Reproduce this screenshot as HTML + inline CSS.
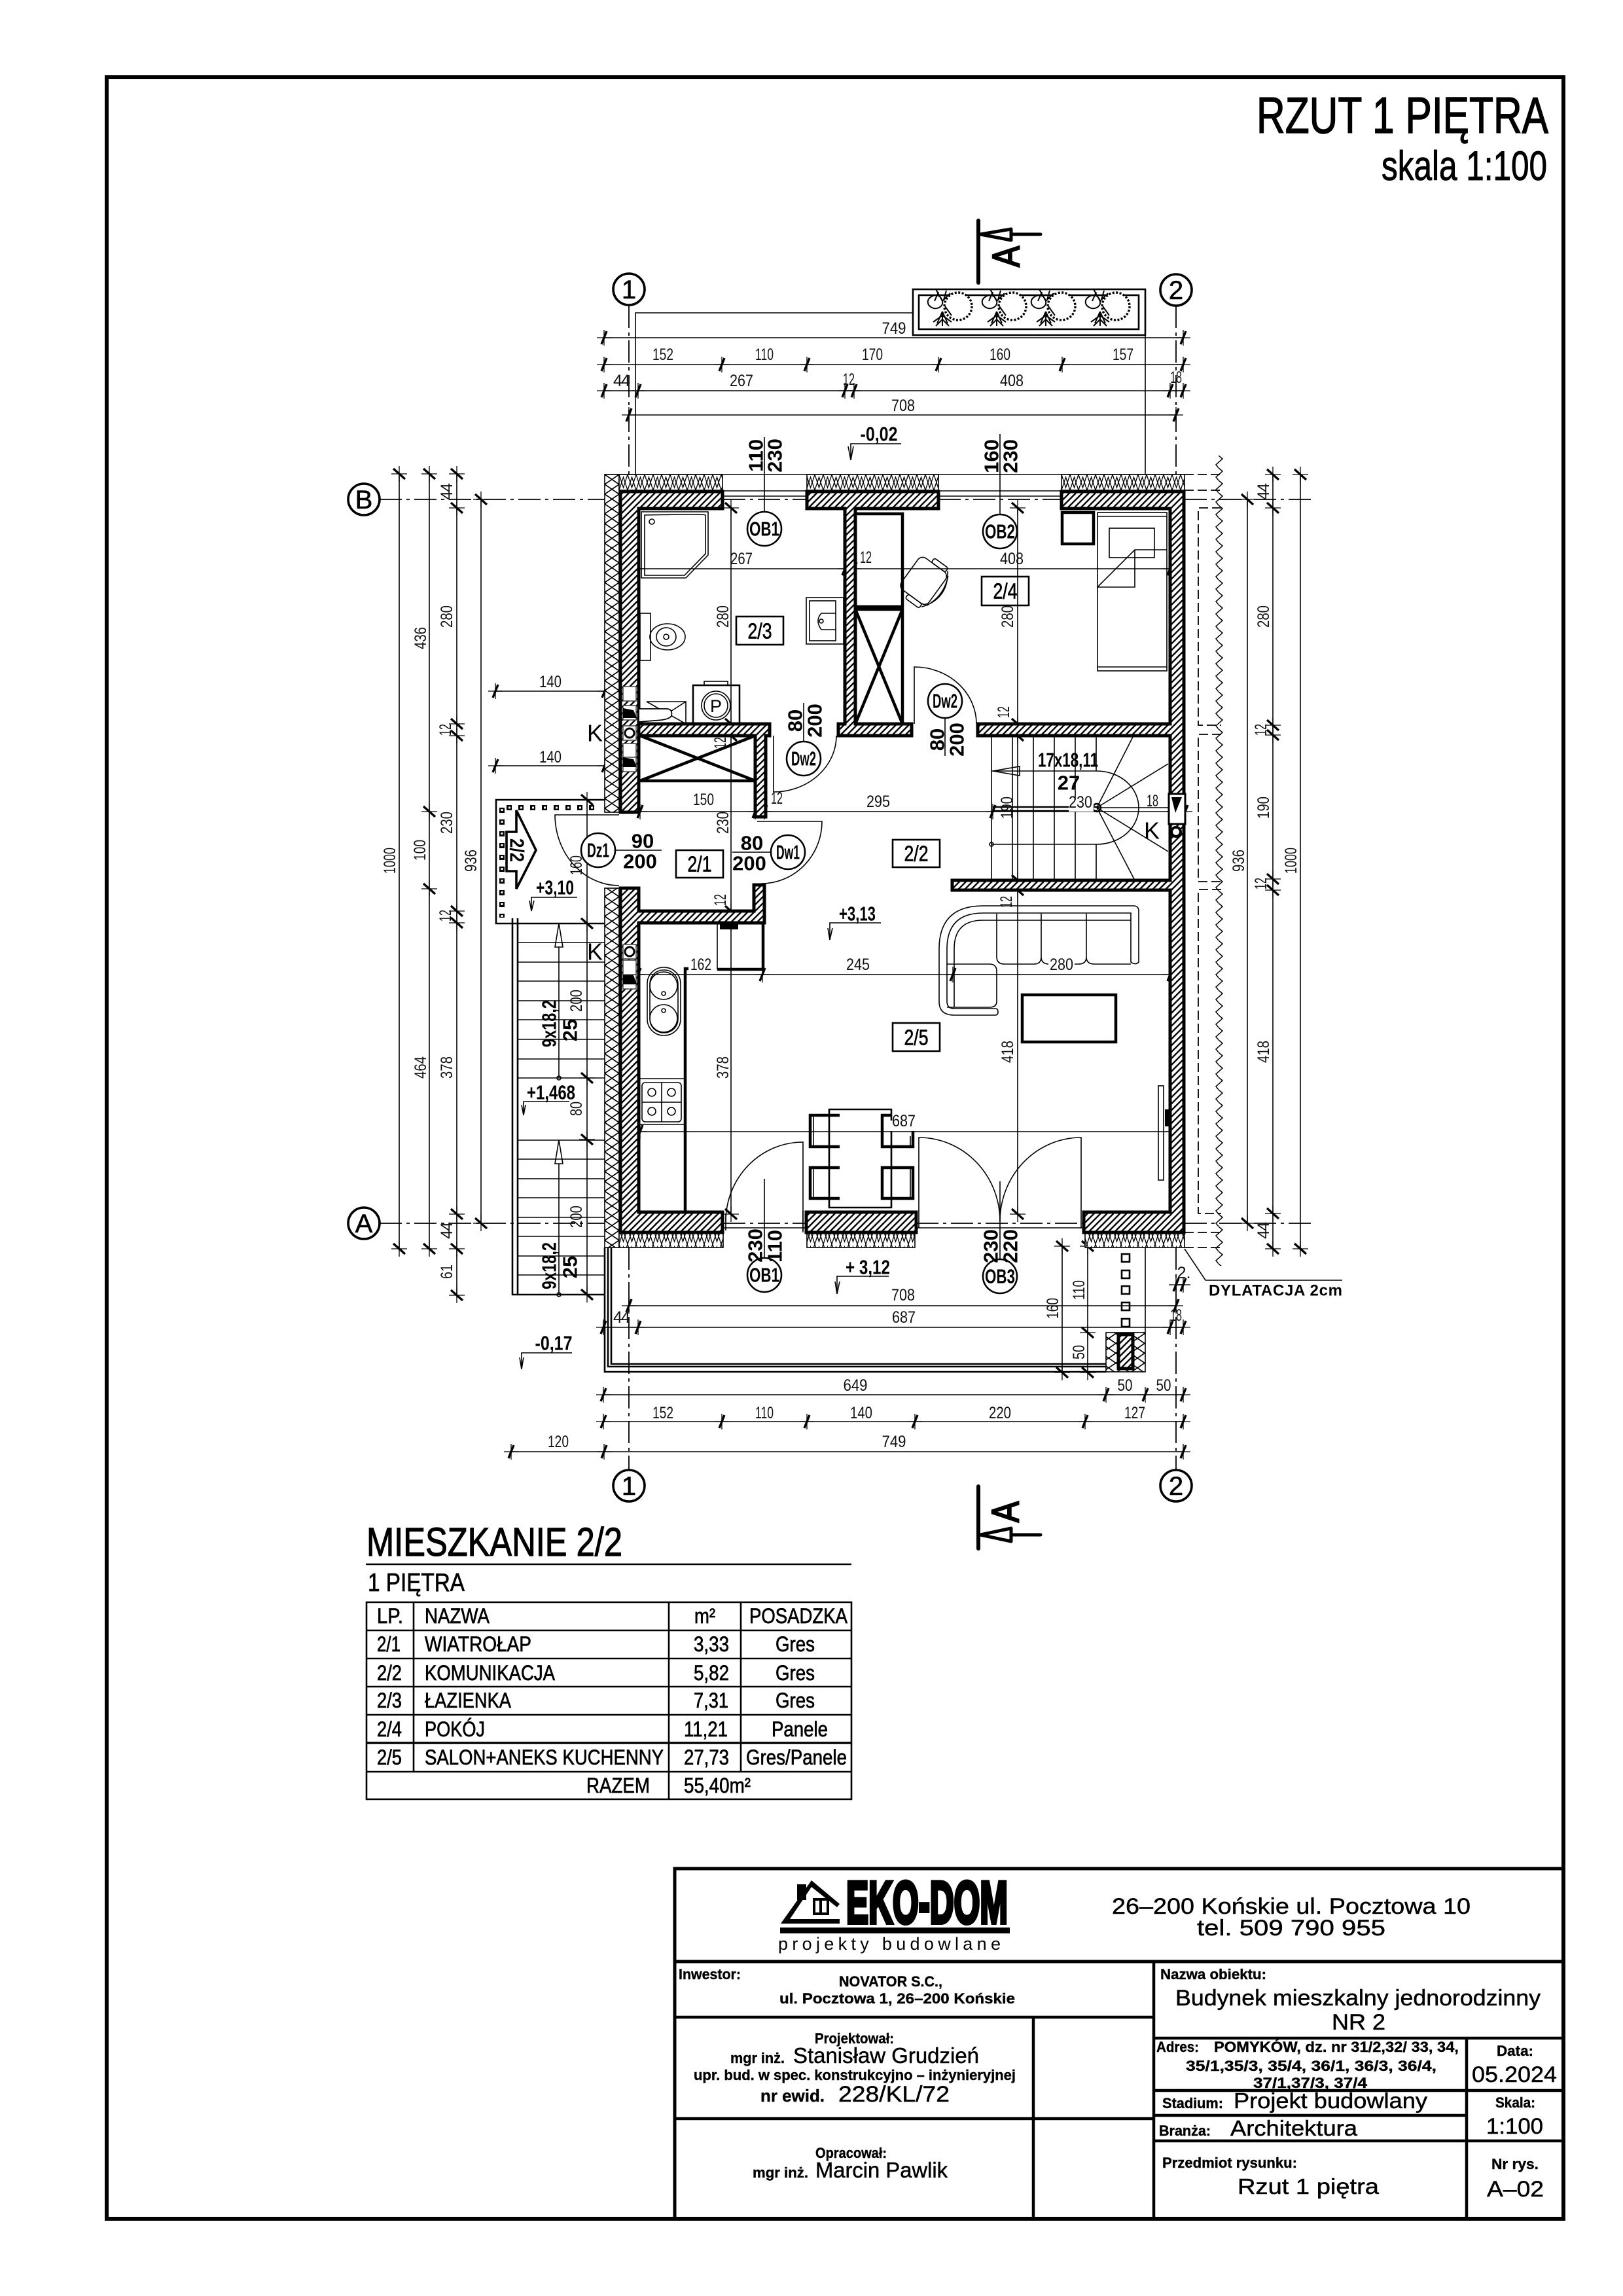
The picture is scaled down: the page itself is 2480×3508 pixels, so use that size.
<!DOCTYPE html>
<html><head><meta charset="utf-8"><title>Rzut 1 piętra</title>
<style>
html,body{margin:0;padding:0;background:#fff}
svg{display:block;font-family:"Liberation Sans",sans-serif}
.t{fill:none;stroke:#000;stroke-width:1.6}
.m{fill:none;stroke:#000;stroke-width:2.6}
.k{fill:none;stroke:#000;stroke-width:4.5}
.w{fill:url(#ha);stroke:#000;stroke-width:5;stroke-linejoin:miter}
.in{fill:url(#lo);stroke:#000;stroke-width:1.6}
.cr{fill:url(#cr);stroke:#000;stroke-width:1.6}
.ax{fill:none;stroke:#000;stroke-width:1.8;stroke-dasharray:34 7 5 7}
.da{fill:none;stroke:#000;stroke-width:1.8;stroke-dasharray:14 6}
.dh{fill:none;stroke:#000;stroke-width:1.6;marker-start:url(#th);marker-mid:url(#th);marker-end:url(#th)}
.dv{fill:none;stroke:#000;stroke-width:1.6;marker-start:url(#tv);marker-mid:url(#tv);marker-end:url(#tv)}
.c{fill:#fff;stroke:#000;stroke-width:3.6}
.c2{fill:#fff;stroke:#000;stroke-width:2.6}
.d{font-size:25px;text-anchor:middle;dominant-baseline:central;fill:#111}
.b{font-size:31px;font-weight:bold;text-anchor:middle;dominant-baseline:central}
.r{font-size:33px;text-anchor:middle;dominant-baseline:central;stroke:#000;stroke-width:.7px}
.h{font-size:22px;font-weight:bold}
.n{font-size:34px;stroke:#000;stroke-width:.5px}
.tb text{stroke:#000;stroke-width:.7px}
</style></head><body>
<svg xmlns="http://www.w3.org/2000/svg" width="2480" height="3508" viewBox="0 0 2480 3508">
<defs>
<pattern id="ha" width="7" height="7" patternUnits="userSpaceOnUse" patternTransform="rotate(45)"><rect width="7" height="7" fill="#fff"/><rect width="2.4" height="7" fill="#000"/></pattern>
<pattern id="lo" x="946" y="725" width="13" height="24" patternUnits="userSpaceOnUse"><rect width="13" height="24" fill="#fff"/><path d="M0 0 6.500 20 13 0M0 24 6.500 4 13 24" fill="none" stroke="#000" stroke-width="1.3"/></pattern>
<pattern id="cr" x="924" y="725" width="22" height="15" patternUnits="userSpaceOnUse"><rect width="22" height="15" fill="#fff"/><path d="M0 0 22 15M22 0 0 15" fill="none" stroke="#000" stroke-width="1.7"/></pattern>
<pattern id="zg" x="1855" y="696" width="14" height="19" patternUnits="userSpaceOnUse"><path d="M7 0 13 5 3 14 7 19" fill="none" stroke="#000" stroke-width="1.5"/></pattern>
<marker id="th" markerUnits="userSpaceOnUse" markerWidth="36" markerHeight="40" refX="18" refY="20" overflow="visible"><path d="M7 20H29M18 8V32" stroke="#000" stroke-width="1.3" fill="none"/><path d="M14 30 22 10" stroke="#000" stroke-width="3.4" fill="none"/></marker>
<marker id="tv" markerUnits="userSpaceOnUse" markerWidth="40" markerHeight="36" refX="20" refY="18" overflow="visible"><path d="M20 6V30M8 18H32" stroke="#000" stroke-width="1.3" fill="none"/><path d="M11 10 29 26" stroke="#000" stroke-width="3.4" fill="none"/></marker>
<g id="pl"><circle r="21" fill="#fff" stroke="#000" stroke-width="3.4" stroke-dasharray="3 2.5"/><path d="M-42 -14c8-6 16-2 18 6s-8 14-16 10-8-12-2-16zM-34-26-24-8-12-20M-24 8-32 26M-24 8-16 26M-24 8-24 30M-24 14-38 24M-24 14-10 24M-24 20-34 30M-24 20-14 30M-20 0-10 14M-30 -22-36 -8M-18 -24-22 -10" fill="none" stroke="#000" stroke-width="2"/></g>
<g id="ch"><rect x="-10" y="-11" width="20" height="22" fill="#fff" stroke="#444" stroke-width="1.5"/></g>
</defs>
<rect width="2480" height="3508" fill="#fff"/>
<rect x="163" y="118" width="2226" height="3272" fill="none" stroke="#000" stroke-width="6"/>

<text x="1920" y="203" font-size="78" stroke="#000" stroke-width="1.4" textLength="446" lengthAdjust="spacingAndGlyphs">RZUT 1 PIĘTRA</text>
<text x="2111" y="275" font-size="63" stroke="#000" stroke-width="1" textLength="253" lengthAdjust="spacingAndGlyphs">skala 1:100</text>

<!-- section marks -->
<g fill="none" stroke="#000" stroke-linecap="round">
<path d="M1495 337V432M1495 2271V2366" stroke-width="6"/>
<path d="M1545 358H1590M1545 2345H1590M1498 358 1545 350V367ZM1498 2345 1545 2335V2355Z" stroke-width="5" stroke-linejoin="round"/>
</g>
<text x="1538" y="392" transform="rotate(-90 1538 392)" font-size="58" text-anchor="middle" dominant-baseline="central" stroke="#000" stroke-width="2.5" textLength="32" lengthAdjust="spacingAndGlyphs">A</text>
<text x="1537" y="2310" transform="rotate(-90 1537 2310)" font-size="58" text-anchor="middle" dominant-baseline="central" stroke="#000" stroke-width="2.5" textLength="32" lengthAdjust="spacingAndGlyphs">A</text>

<!-- planter -->
<rect x="1395" y="442" width="355" height="70" class="m"/>
<rect x="1404" y="451" width="336" height="52" class="m"/>
<use href="#pl" x="1464" y="468"/><use href="#pl" x="1547" y="468"/><use href="#pl" x="1622" y="468"/><use href="#pl" x="1705" y="468"/>

<!-- axes -->
<path class="ax" d="M961 467V725M1797 467V725M961 1906V2246M1797 1906V2246M580 763H948M1810 763H2005M580 1869H948M1810 1869H2005M1105 763H1233M1434 763H1622M1105 1869H1232M1400 1869H1656"/>
<circle cx="961" cy="442" r="24" class="c"/><circle cx="1797" cy="443" r="24" class="c"/>
<circle cx="961" cy="2270" r="24" class="c"/><circle cx="1797" cy="2270" r="24" class="c"/>
<circle cx="556" cy="763" r="24" class="c"/><circle cx="556" cy="1869" r="24" class="c"/>
<g font-size="40" text-anchor="middle" dominant-baseline="central" stroke="#000" stroke-width=".6">
<text x="961" y="443">1</text><text x="1797" y="444">2</text><text x="961" y="2271">1</text><text x="1797" y="2271">2</text><text x="556" y="764">B</text><text x="556" y="1870">A</text></g>

<!-- extension lines -->
<path class="t" d="M971 725V478H1395M1750 512V725M1750 1906V2036M924 725H1810"/>

<!-- dims top -->
<g class="dim">
<polyline class="dh" points="923,516 1808,516"/>
<polyline class="dh" points="923,557 1103,557 1233,557 1434,557 1623,557 1808,557"/>
<polyline class="dh" points="923,597 975,597 1291,597 1305,597 1788,597 1808,597"/>
<polyline class="dh" points="961,634 1797,634"/>
<!-- dims bottom -->
<polyline class="dh" points="961,1995 1797,1995"/>
<polyline class="dh" points="922,2028 975,2028 1788,2028 1808,2028"/>
<polyline class="dh" points="922,2131 1690,2131 1750,2131 1808,2131"/>
<polyline class="dh" points="922,2172 1103,2172 1233,2172 1398,2172 1658,2172 1808,2172"/>
<polyline class="dh" points="781,2218 923,2218 1808,2218"/>
<!-- left -->
<polyline class="dv" points="610,724 610,1908"/>
<polyline class="dv" points="656,724 656,1240 656,1358 656,1908"/>
<polyline class="dv" points="698,724 698,776 698,1106 698,1124 698,1392 698,1410 698,1855 698,1908 698,1979"/>
<polyline class="dv" points="735,763 735,1869"/>
<polyline class="dv" points="897,1222 897,1411 897,1647 897,1741 897,1978"/>
<!-- right -->
<polyline class="dv" points="1906,763 1906,1869"/>
<polyline class="dv" points="1945,725 1945,776 1945,1108 1945,1123 1945,1343 1945,1360 1945,1854 1945,1908"/>
<polyline class="dv" points="1987,725 1987,1908"/>
<!-- interior -->
<polyline class="dv" points="1117,776 1117,1106 1117,1124 1117,1392 1117,1410 1117,1855"/>
<polyline class="dv" points="1555,776 1555,1106 1555,1124 1555,1345 1555,1360 1555,1855"/>
<polyline class="dh" points="973,869 1291,869 1305,869 1788,869"/>
<polyline class="dh" points="978,1240 1154,1240 1168,1240 1517,1240 1794,1240 1811,1240"/>
<polyline class="dh" points="975,1489 1165,1489 1456,1489 1788,1489"/>
<polyline class="dh" points="978,1729 1791,1729"/>
<polyline class="dh" points="757,1056 924,1056"/>
<polyline class="dh" points="757,1170 924,1170"/>
<polyline class="dv" points="1623,1904 1623,2097"/>
<polyline class="dv" points="1662,1904 1662,2036 1662,2097"/>
<polyline class="dh" points="1797,1963 1808,1963"/>
</g>

<!-- dilatation -->
<rect x="1855" y="696" width="14" height="1238" fill="url(#zg)"/>
<path class="da" d="M1810 725H1866M1810 749H1866M1810 1883H1866M1810 1906H1866M1866 776H1831V1108H1866M1866 1122H1831V1347H1866M1866 1359H1831V1854H1866"/>
<path class="t" d="M1810 1908 1842 1956H2051"/>
<text x="1847" y="1972" font-size="24" font-weight="bold" dominant-baseline="central" textLength="204" lengthAdjust="spacing">DYLATACJA 2cm</text>

<!-- insulation -->
<rect x="924" y="725" width="22" height="516" class="cr"/>
<rect x="924" y="1357" width="22" height="549" class="cr"/>
<rect x="946" y="725" width="158" height="24" class="in"/><rect x="1233" y="725" width="201" height="24" class="in"/><rect x="1622" y="725" width="188" height="24" class="in"/>
<rect x="946" y="1883" width="159" height="23" class="in"/><rect x="1233" y="1883" width="165" height="23" class="in"/><rect x="1658" y="1883" width="152" height="23" class="in"/>

<!-- windows -->
<path class="t" d="M1104 750H1233M1104 758H1233M1434 750H1622M1434 758H1622M1105 1876H1232M1400 1876H1656M1109 1855V1880M1227 1850V1880"/>

<!-- balcony -->
<path class="m" d="M924 1906V2096H1690M934 1906V2084H1690M929 1906V2088H1690"/>
<rect x="1690" y="2036" width="60" height="60" class="cr"/>
<rect x="1709" y="2039" width="22" height="52" class="w" stroke-width="4"/>
<g class="m" fill="#fff"><rect x="1714" y="1916" width="12" height="12"/><rect x="1714" y="1941" width="12" height="12"/><rect x="1714" y="1965" width="12" height="12"/><rect x="1714" y="1990" width="12" height="12"/><rect x="1714" y="2015" width="12" height="12"/></g>

<!-- walls -->
<path class="w" d="M948 1241V751H1104V777H976V1241Z"/>
<path class="w" d="M976 1106H1176V1124H1170V1248H1154V1124H976Z"/>
<path class="w" d="M1233 751H1434V777H1307V1106H1393V1124H1281V1106H1291V777H1233Z"/>
<path class="w" d="M1622 751H1809V1883H1656V1852H1788V1360H1455V1345H1788V1124H1494V1106H1788V777H1622Z"/>
<path class="w" d="M948 1357H976V1392H1152V1352H1168V1410H976V1852H1104V1883H948Z"/>
<rect x="1232" y="1852" width="168" height="31" class="w"/>

<!-- chimneys -->
<g>
<use href="#ch" x="962" y="1060"/><use href="#ch" x="962" y="1089"/><path d="M952 1082 968 1085 973 1097 952 1097Z"/>
<use href="#ch" x="962" y="1120"/><circle cx="962" cy="1120" r="7" fill="none" stroke="#000" stroke-width="3"/>
<use href="#ch" x="962" y="1147"/><use href="#ch" x="962" y="1168"/><path d="M952 1157 968 1160 973 1172 952 1172Z"/>
<use href="#ch" x="962" y="1454"/><circle cx="962" cy="1454" r="7" fill="none" stroke="#000" stroke-width="3"/>
<use href="#ch" x="962" y="1478"/><use href="#ch" x="962" y="1500"/><path d="M952 1490 968 1490 973 1504 952 1504Z"/>
<rect x="1786" y="1213" width="25" height="46" fill="#fff" stroke="#000" stroke-width="3"/><path d="M1790 1218H1806L1796 1242Z"/>
<circle cx="1797" cy="1271" r="7" fill="#fff" stroke="#000" stroke-width="4"/>
</g>

<!-- closets -->
<path class="k" d="M1307 785H1379V927H1307M1307 931H1379V1106M978 1193H1154M1307 931 1379 1106M1379 931 1307 1106M978 1124 1154 1193M1154 1124 978 1193" stroke-width="3.6"/>
<!-- shower -->
<path class="t" d="M980 782H1082V848L1048 883H980Z"/>
<path class="t" d="M985 787Q1078 785 1078 787V846L1046 879H985Z"/>
<circle cx="996" cy="797" r="4" class="t"/>
<!-- wc -->
<rect x="978" y="937" width="16" height="72" class="t"/>
<ellipse cx="1020" cy="973" rx="27" ry="20" class="t"/><ellipse cx="1018" cy="973" rx="15" ry="14" class="t"/><circle cx="1018" cy="973" r="4" class="t"/>
<!-- washer -->
<rect x="1059" y="1047" width="71" height="59" class="m"/><rect x="1076" y="1041" width="36" height="6" class="t"/>
<circle cx="1094" cy="1078" r="22" class="t"/><circle cx="1094" cy="1078" r="18" class="t"/>
<text x="1094" y="1079" font-size="27" text-anchor="middle" dominant-baseline="central">P</text>
<!-- bidet -->
<path class="t" d="M988 1072H1048V1106M988 1072 1048 1106M1048 1072 1020 1090"/>
<path d="M976 1083H1020Q1028 1084 1026 1094 1022 1100 1000 1101L976 1103Z" fill="#fff" stroke="#000" stroke-width="1.8"/>
<!-- sink -->
<rect x="1232" y="913" width="57" height="71" class="t"/><rect x="1237" y="918" width="40" height="61" class="t"/>
<path class="t" d="M1277 937H1255Q1245 948 1255 962H1277"/><circle cx="1255" cy="949" r="3" class="t"/>
<!-- chair -->
<g transform="translate(1412 888) rotate(36)"><rect x="-27" y="-30" width="52" height="60" rx="9" class="t"/><path class="t" d="M25 -28Q38 0 25 28M20 -34Q46 0 20 34"/><rect x="-8" y="-38" width="26" height="8" class="t" rx="3"/><rect x="-8" y="30" width="26" height="8" class="t" rx="3"/></g>
<!-- bedside+bed -->
<rect x="1623" y="783" width="48" height="48" class="k"/>
<rect x="1677" y="783" width="106" height="242" class="t"/><path class="t" d="M1677 789H1783M1677 1019H1783"/>
<rect x="1695" y="807" width="69" height="45" class="t"/>
<path d="M1677 897 1734 840H1783M1734 840V897H1677" fill="none" stroke="#000" stroke-width="1.6"/>
<!-- doors -->
<path class="t" d="M1397 1106V1019A95 87 0 0 1 1492 1106"/>
<path class="t" d="M1182 1124V1210A96 86 0 0 0 1278 1124"/>
<path class="t" d="M946 1245H848A98 108 0 0 0 946 1353"/>
<path class="t" d="M1157 1255H1256A93 95 0 0 1 1163 1350"/>
<path class="t" d="M1227 1883V1745A118 121 0 0 0 1109 1866"/>
<path class="t" d="M1404 1876V1738A124 128 0 0 1 1528 1866A124 128 0 0 1 1652 1738V1876"/>

<!-- stairs -->
<path class="t" d="M1515 1124V1345M1547 1124V1345M1579 1124V1345M1611 1124V1345M1643 1124V1345M1675 1124V1178M1675 1290V1345M1676 1234 1732 1124M1676 1234 1785 1167M1676 1234H1786M1676 1234 1785 1301M1676 1234 1734 1345M1515 1178H1676A64 56 0 0 1 1676 1290H1515"/>
<path class="t" d="M1517 1178 1558 1171V1185Z"/>
<circle cx="1515" cy="1290" r="3" class="t"/>
<path d="M1517 1233H1676M1517 1239H1676" stroke="#000" stroke-width="2.4" fill="none"/>
<circle cx="1676" cy="1234" r="6" class="m" fill="#fff"/>
<rect x="1633" y="1222" width="38" height="18" fill="#fff"/>

<!-- exterior stairs -->
<path class="m" d="M924 1222H758V1411H924"/>
<path d="M908 1234H766M767 1234V1402" stroke="#000" stroke-width="8" stroke-dasharray="8 10" fill="none"/>
<path d="M906 1234H766M767 1236V1402" stroke="#fff" stroke-width="3" stroke-dasharray="3 15" fill="none"/>
<path d="M789 1238 819 1299 789 1358V1331H774V1271H789Z" fill="#fff" stroke="#000" stroke-width="3.6"/>
<path class="m" d="M783 1403V1978H924M791 1403V1978"/>
<path class="t" stroke-width="2" d="M791 1440H924M791 1470H924M791 1499H924M791 1529H924M791 1558H924M791 1588H924M791 1618H924M791 1647H924M791 1742H924M791 1771H924M791 1801H924M791 1830H924M791 1860H924M791 1889H924M791 1919H924M791 1948H924"/>
<path class="t" d="M854 1647V1447M854 1978V1778M854 1411 848 1447H860ZM854 1742 848 1778H860Z"/>
<circle cx="854" cy="1647" r="3" class="t" fill="#fff"/><circle cx="854" cy="1978" r="3" class="t" fill="#fff"/>

<!-- kitchen -->
<path class="k" d="M1047 1850V1480H1052M1096 1481H1166V1412"/>
<path class="t" d="M1096 1411V1481"/><rect x="1100" y="1412" width="28" height="8"/>
<rect x="989" y="1478" width="51" height="104" rx="25" class="t"/><rect x="993" y="1482" width="43" height="96" rx="21" class="t"/>
<circle cx="1014" cy="1506" r="21" class="t"/><circle cx="1014" cy="1556" r="21" class="t"/><circle cx="1014" cy="1518" r="3" class="t"/><circle cx="1014" cy="1544" r="3" class="t"/>
<rect x="981" y="1654" width="60" height="60" rx="5" class="t"/><path class="t" d="M978 1648H1047M978 1718H1047M1011 1654V1714M981 1684H1041"/>
<g class="t"><circle cx="996" cy="1669" r="6"/><circle cx="1026" cy="1669" r="6"/><circle cx="996" cy="1698" r="6"/><circle cx="1026" cy="1698" r="6"/></g>
<!-- table, chairs -->
<path class="m" stroke-width="3.4" d="M1362 1712V1695H1267V1845H1362V1728"/>
<path class="k" stroke-width="3.6" d="M1283 1704H1238V1752H1283M1283 1784H1238V1831H1283M1362 1704H1348V1752H1395V1728M1395 1784H1348V1831H1395Z"/>
<path class="t" d="M1243 1704V1752M1243 1784V1831M1391 1736V1752M1391 1784V1831"/>
<!-- sofa -->
<path class="t" d="M1740 1470V1392Q1740 1384 1732 1384H1502Q1435 1384 1435 1450V1530Q1435 1551 1458 1551H1521Q1525 1551 1525 1546 1525 1541 1521 1541H1458Q1447 1541 1447 1530V1450Q1447 1395 1502 1395H1728V1470Q1735 1475 1740 1470Z"/>
<path class="t" d="M1458 1539V1450Q1458 1406 1502 1406H1728M1523 1396V1462Q1523 1473 1535 1473H1580Q1591 1473 1591 1462V1396M1591 1462Q1591 1473 1603 1473H1648Q1660 1473 1660 1462V1396M1660 1462Q1660 1473 1672 1473H1728M1447 1473H1512Q1523 1473 1523 1484V1530Q1523 1539 1512 1539H1447"/>
<rect x="1562" y="1520" width="143" height="72" class="k" stroke-width="3.4"/>
<rect x="1770" y="1659" width="8" height="144" class="t"/><rect x="1780" y="1695" width="6" height="26"/>

<!-- symbol lines -->
<path class="t" d="M1168 668V782M1528 663V786M1228 1074V1133M1444 1097V1155M940 1299H1011M1119 1302H1179M1528 1805V1925M1168 1801V1929"/>
<g class="c2"><circle cx="1168" cy="808" r="26"/><circle cx="1528" cy="812" r="26"/><circle cx="1228" cy="1159" r="26"/><circle cx="1444" cy="1071" r="26"/><circle cx="914" cy="1299" r="26"/><circle cx="1204" cy="1302" r="26"/><circle cx="1528" cy="1950" r="26"/><circle cx="1168" cy="1948" r="26"/></g>

<!-- elevations -->
<path class="t" stroke-width="2" d="M1377 678H1300V703L1296 682M1300 703 1304 682M882 1371H812V1392L809 1376M812 1392 816 1376M870 1683H800V1704L797 1688M800 1704 803 1688M1346 1410H1268V1436L1265 1418M1268 1436 1272 1418M1358 1950H1279V1977L1276 1958M1279 1977 1283 1958M874 2067H797V2092L794 2074M797 2092 800 2074"/>

<!-- room boxes -->
<g class="m" stroke-width="2" fill="#fff"><rect x="1125" y="942" width="72" height="43"/><rect x="1500" y="881" width="72" height="44"/><rect x="1033" y="1299" width="72" height="42"/><rect x="1364" y="1283" width="72" height="42"/><rect x="1364" y="1563" width="72" height="43"/></g>
<g class="r">
<text x="1161" y="964" textLength="37" lengthAdjust="spacingAndGlyphs" class="r">2/3</text>
<text x="1536" y="903" textLength="37" lengthAdjust="spacingAndGlyphs" class="r">2/4</text>
<text x="1069" y="1320" textLength="37" lengthAdjust="spacingAndGlyphs" class="r">2/1</text>
<text x="1400" y="1304" textLength="37" lengthAdjust="spacingAndGlyphs" class="r">2/2</text>
<text x="1400" y="1585" textLength="37" lengthAdjust="spacingAndGlyphs" class="r">2/5</text>
</g>
<!-- bold labels -->
<g class="b">
<text class="b" x="1168" y="808" textLength="46" lengthAdjust="spacingAndGlyphs" font-size="29">OB1</text>
<text class="b" x="1528" y="812" textLength="46" lengthAdjust="spacingAndGlyphs">OB2</text>
<text class="b" x="1228" y="1159" textLength="38" lengthAdjust="spacingAndGlyphs">Dw2</text>
<text class="b" x="1444" y="1071" textLength="38" lengthAdjust="spacingAndGlyphs">Dw2</text>
<text class="b" x="914" y="1299" textLength="34" lengthAdjust="spacingAndGlyphs">Dz1</text>
<text class="b" x="1204" y="1302" textLength="36" lengthAdjust="spacingAndGlyphs">Dw1</text>
<text class="b" x="1528" y="1950" textLength="46" lengthAdjust="spacingAndGlyphs">OB3</text>
<text class="b" x="1168" y="1948" textLength="46" lengthAdjust="spacingAndGlyphs">OB1</text>
<text class="b" x="982" y="1285">90</text><text class="b" x="978" y="1316">200</text>
<text class="b" x="1149" y="1288">80</text><text class="b" x="1145" y="1319">200</text>
<text class="b" x="1155" y="696" transform="rotate(-90 1155 696)">110</text><text class="b" x="1184" y="696" transform="rotate(-90 1184 696)">230</text>
<text class="b" x="1515" y="697" transform="rotate(-90 1515 697)">160</text><text class="b" x="1544" y="697" transform="rotate(-90 1544 697)">230</text>
<text class="b" x="1215" y="1101" transform="rotate(-90 1215 1101)">80</text><text class="b" x="1245" y="1101" transform="rotate(-90 1245 1101)">200</text>
<text class="b" x="1432" y="1130" transform="rotate(-90 1432 1130)">80</text><text class="b" x="1462" y="1130" transform="rotate(-90 1462 1130)">200</text>
<text class="b" x="1154" y="1903" transform="rotate(-90 1154 1903)">230</text><text class="b" x="1184" y="1904" transform="rotate(-90 1184 1904)">110</text>
<text class="b" x="1514" y="1904" transform="rotate(-90 1514 1904)">230</text><text class="b" x="1544" y="1904" transform="rotate(-90 1544 1904)">220</text>
<text class="b" x="790" y="1299" transform="rotate(90 790 1299)" textLength="36" lengthAdjust="spacingAndGlyphs">2/2</text>
<text class="b" x="839" y="1564" transform="rotate(-90 839 1564)" textLength="72" lengthAdjust="spacingAndGlyphs">9x18,2</text><text class="b" x="871" y="1574" transform="rotate(-90 871 1574)">25</text>
<text class="b" x="839" y="1934" transform="rotate(-90 839 1934)" textLength="72" lengthAdjust="spacingAndGlyphs">9x18,2</text><text class="b" x="871" y="1936" transform="rotate(-90 871 1936)">25</text>
<text class="b" x="1632" y="1161" textLength="92" lengthAdjust="spacingAndGlyphs">17x18,11</text><text class="b" x="1633" y="1196">27</text>
<text class="b" x="1343" y="663" textLength="57" lengthAdjust="spacingAndGlyphs">-0,02</text>
<text class="b" x="848" y="1356" textLength="58" lengthAdjust="spacingAndGlyphs">+3,10</text>
<text class="b" x="842" y="1669" textLength="74" lengthAdjust="spacingAndGlyphs">+1,468</text>
<text class="b" x="1310" y="1396" textLength="56" lengthAdjust="spacingAndGlyphs">+3,13</text>
<text class="b" x="1326" y="1936" textLength="68" lengthAdjust="spacingAndGlyphs">+ 3,12</text>
<text class="b" x="846" y="2052" textLength="57" lengthAdjust="spacingAndGlyphs" font-weight="normal">-0,17</text>
</g>
<g font-size="36" text-anchor="middle" dominant-baseline="central"><text x="909" y="1120">K</text><text x="909" y="1454">K</text><text x="1760" y="1269">K</text></g>

<!-- dim labels -->
<g>
<text class="d" x="1366" y="502" textLength="37" lengthAdjust="spacingAndGlyphs">749</text>
<text class="d" x="1013" y="542" textLength="32" lengthAdjust="spacingAndGlyphs">152</text><text class="d" x="1168" y="542" textLength="28" lengthAdjust="spacingAndGlyphs">110</text><text class="d" x="1333" y="542" textLength="32" lengthAdjust="spacingAndGlyphs">170</text><text class="d" x="1528" y="542" textLength="32" lengthAdjust="spacingAndGlyphs">160</text><text class="d" x="1716" y="542" textLength="32" lengthAdjust="spacingAndGlyphs">157</text>
<text class="d" x="950" y="582" textLength="26" lengthAdjust="spacing">44</text><text class="d" x="1133" y="582" textLength="36" lengthAdjust="spacingAndGlyphs">267</text><text class="d" x="1297" y="580" textLength="18" lengthAdjust="spacingAndGlyphs">12</text><text class="d" x="1546" y="582" textLength="36" lengthAdjust="spacingAndGlyphs">408</text><text class="d" x="1797" y="577" textLength="18" lengthAdjust="spacingAndGlyphs">18</text>
<text class="d" x="1380" y="620" textLength="36" lengthAdjust="spacingAndGlyphs">708</text>
<text class="d" x="1380" y="1979" textLength="36" lengthAdjust="spacingAndGlyphs">708</text>
<text class="d" x="950" y="2013" textLength="26" lengthAdjust="spacing">44</text><text class="d" x="1381" y="2013" textLength="36" lengthAdjust="spacingAndGlyphs">687</text><text class="d" x="1797" y="2010" textLength="18" lengthAdjust="spacingAndGlyphs">18</text>
<text class="d" x="1307" y="2117" textLength="37" lengthAdjust="spacingAndGlyphs">649</text><text class="d" x="1719" y="2117" textLength="23" lengthAdjust="spacingAndGlyphs">50</text><text class="d" x="1778" y="2117" textLength="23" lengthAdjust="spacingAndGlyphs">50</text>
<text class="d" x="1013" y="2159" textLength="32" lengthAdjust="spacingAndGlyphs">152</text><text class="d" x="1168" y="2159" textLength="28" lengthAdjust="spacingAndGlyphs">110</text><text class="d" x="1316" y="2159" textLength="34" lengthAdjust="spacingAndGlyphs">140</text><text class="d" x="1528" y="2159" textLength="34" lengthAdjust="spacingAndGlyphs">220</text><text class="d" x="1734" y="2159" textLength="32" lengthAdjust="spacingAndGlyphs">127</text>
<text class="d" x="853" y="2203" textLength="32" lengthAdjust="spacingAndGlyphs">120</text><text class="d" x="1366" y="2203" textLength="37" lengthAdjust="spacingAndGlyphs">749</text>
<text class="d" x="841" y="1042" textLength="34" lengthAdjust="spacingAndGlyphs">140</text><text class="d" x="841" y="1157" textLength="34" lengthAdjust="spacingAndGlyphs">140</text>
<text class="d" x="1133" y="854" textLength="34" lengthAdjust="spacingAndGlyphs">267</text><text class="d" x="1323" y="852" textLength="18" lengthAdjust="spacingAndGlyphs">12</text><text class="d" x="1546" y="854" textLength="36" lengthAdjust="spacingAndGlyphs">408</text>
<text class="d" x="1075" y="1222" textLength="32" lengthAdjust="spacingAndGlyphs">150</text><text class="d" x="1187" y="1220" textLength="18" lengthAdjust="spacingAndGlyphs">12</text><text class="d" x="1342" y="1225" textLength="36" lengthAdjust="spacingAndGlyphs">295</text><text class="d" x="1651" y="1226" textLength="36" lengthAdjust="spacingAndGlyphs">230</text><text class="d" x="1761" y="1224" textLength="18" lengthAdjust="spacingAndGlyphs">18</text>
<text class="d" x="1071" y="1474" textLength="32" lengthAdjust="spacingAndGlyphs">162</text><text class="d" x="1311" y="1474" textLength="36" lengthAdjust="spacingAndGlyphs">245</text><rect x="1602" y="1462" width="40" height="24" fill="#fff"/><text class="d" x="1622" y="1474" textLength="36" lengthAdjust="spacingAndGlyphs">280</text><text class="d" x="1381" y="1713" textLength="36" lengthAdjust="spacingAndGlyphs">687</text>
<text class="d" x="1809" y="1945" font-size="20">2.</text>
</g>
<g>
<text class="d" x="596" y="1315" transform="rotate(-90 596 1315)" textLength="40" lengthAdjust="spacingAndGlyphs">1000</text>
<text class="d" x="643" y="975" transform="rotate(-90 643 975)" textLength="34" lengthAdjust="spacingAndGlyphs">436</text>
<text class="d" x="642" y="1299" transform="rotate(-90 642 1299)" textLength="32" lengthAdjust="spacingAndGlyphs">100</text>
<text class="d" x="643" y="1631" transform="rotate(-90 643 1631)" textLength="34" lengthAdjust="spacingAndGlyphs">464</text>
<text class="d" x="683" y="751" transform="rotate(-90 683 751)" textLength="26" lengthAdjust="spacing">44</text>
<text class="d" x="683" y="942" transform="rotate(-90 683 942)" textLength="34" lengthAdjust="spacingAndGlyphs">280</text>
<text class="d" x="681" y="1115" transform="rotate(-90 681 1115)" textLength="18" lengthAdjust="spacingAndGlyphs">12</text>
<text class="d" x="683" y="1257" transform="rotate(-90 683 1257)" textLength="34" lengthAdjust="spacingAndGlyphs">230</text>
<text class="d" x="681" y="1399" transform="rotate(-90 681 1399)" textLength="18" lengthAdjust="spacingAndGlyphs">12</text>
<text class="d" x="683" y="1631" transform="rotate(-90 683 1631)" textLength="34" lengthAdjust="spacingAndGlyphs">378</text>
<text class="d" x="683" y="1880" transform="rotate(-90 683 1880)" textLength="26" lengthAdjust="spacing">44</text>
<text class="d" x="683" y="1943" transform="rotate(-90 683 1943)" textLength="22" lengthAdjust="spacingAndGlyphs">61</text>
<text class="d" x="720" y="1315" transform="rotate(-90 720 1315)" textLength="34" lengthAdjust="spacingAndGlyphs">936</text>
<text class="d" x="881" y="1322" transform="rotate(-90 881 1322)" textLength="30" lengthAdjust="spacingAndGlyphs">160</text>
<text class="d" x="881" y="1529" transform="rotate(-90 881 1529)" textLength="34" lengthAdjust="spacingAndGlyphs">200</text>
<text class="d" x="881" y="1694" transform="rotate(-90 881 1694)" textLength="22" lengthAdjust="spacingAndGlyphs">80</text>
<text class="d" x="881" y="1859" transform="rotate(-90 881 1859)" textLength="34" lengthAdjust="spacingAndGlyphs">200</text>
<text class="d" x="1105" y="942" transform="rotate(-90 1105 942)" textLength="34" lengthAdjust="spacingAndGlyphs">280</text>
<text class="d" x="1101" y="1135" transform="rotate(-90 1101 1135)" textLength="18" lengthAdjust="spacingAndGlyphs">12</text>
<text class="d" x="1105" y="1257" transform="rotate(-90 1105 1257)" textLength="34" lengthAdjust="spacingAndGlyphs">230</text>
<text class="d" x="1101" y="1375" transform="rotate(-90 1101 1375)" textLength="18" lengthAdjust="spacingAndGlyphs">12</text>
<text class="d" x="1105" y="1631" transform="rotate(-90 1105 1631)" textLength="34" lengthAdjust="spacingAndGlyphs">378</text>
<text class="d" x="1540" y="942" transform="rotate(-90 1540 942)" textLength="34" lengthAdjust="spacingAndGlyphs">280</text>
<text class="d" x="1534" y="1088" transform="rotate(-90 1534 1088)" textLength="18" lengthAdjust="spacingAndGlyphs">12</text>
<text class="d" x="1539" y="1234" transform="rotate(-90 1539 1234)" textLength="34" lengthAdjust="spacingAndGlyphs">190</text>
<text class="d" x="1538" y="1378" transform="rotate(-90 1538 1378)" textLength="18" lengthAdjust="spacingAndGlyphs">12</text>
<text class="d" x="1540" y="1607" transform="rotate(-90 1540 1607)" textLength="34" lengthAdjust="spacingAndGlyphs">418</text>
<text class="d" x="1893" y="1315" transform="rotate(-90 1893 1315)" textLength="34" lengthAdjust="spacingAndGlyphs">936</text>
<text class="d" x="1931" y="751" transform="rotate(-90 1931 751)" textLength="26" lengthAdjust="spacing">44</text>
<text class="d" x="1931" y="942" transform="rotate(-90 1931 942)" textLength="34" lengthAdjust="spacingAndGlyphs">280</text>
<text class="d" x="1927" y="1115" transform="rotate(-90 1927 1115)" textLength="18" lengthAdjust="spacingAndGlyphs">12</text>
<text class="d" x="1931" y="1234" transform="rotate(-90 1931 1234)" textLength="34" lengthAdjust="spacingAndGlyphs">190</text>
<text class="d" x="1927" y="1350" transform="rotate(-90 1927 1350)" textLength="18" lengthAdjust="spacingAndGlyphs">12</text>
<text class="d" x="1931" y="1607" transform="rotate(-90 1931 1607)" textLength="34" lengthAdjust="spacingAndGlyphs">418</text>
<text class="d" x="1931" y="1880" transform="rotate(-90 1931 1880)" textLength="26" lengthAdjust="spacing">44</text>
<text class="d" x="1973" y="1315" transform="rotate(-90 1973 1315)" textLength="40" lengthAdjust="spacingAndGlyphs">1000</text>
<text class="d" x="1649" y="1971" transform="rotate(-90 1649 1971)" textLength="30" lengthAdjust="spacingAndGlyphs">110</text>
<text class="d" x="1649" y="2066" transform="rotate(-90 1649 2066)" textLength="22" lengthAdjust="spacingAndGlyphs">50</text>
<text class="d" x="1609" y="1999" transform="rotate(-90 1609 1999)" textLength="32" lengthAdjust="spacingAndGlyphs">160</text>
</g>

<!-- schedule -->
<text x="560" y="2377" font-size="61" stroke="#000" stroke-width="1.2" textLength="391" lengthAdjust="spacingAndGlyphs">MIESZKANIE 2/2</text>
<path d="M559 2390H1301" stroke="#000" stroke-width="2.4"/>
<text x="562" y="2431" font-size="39" stroke="#000" stroke-width=".7" textLength="148" lengthAdjust="spacingAndGlyphs">1 PIĘTRA</text>
<path class="m" stroke-width="2.4" d="M560 2448H1301V2749H560ZM560 2491H1301M560 2534H1301M560 2577H1301M560 2620H1301M560 2663H1301M560 2707H1301M632 2448V2707M1022 2448V2749M1132 2448V2707"/>
<path d="M560 2663H1301" stroke="#000" stroke-width="3.5"/>
<g font-size="32" class="tb">
<text x="576" y="2480" textLength="40" lengthAdjust="spacingAndGlyphs">LP.</text><text x="649" y="2480" textLength="99" lengthAdjust="spacingAndGlyphs">NAZWA</text><text x="1061" y="2480" textLength="32" lengthAdjust="spacingAndGlyphs">m²</text><text x="1145" y="2480" textLength="150" lengthAdjust="spacingAndGlyphs">POSADZKA</text>
<text x="576" y="2523" textLength="36" lengthAdjust="spacingAndGlyphs">2/1</text><text x="649" y="2523" textLength="163" lengthAdjust="spacingAndGlyphs">WIATROŁAP</text><text x="1060" y="2523" textLength="54" lengthAdjust="spacingAndGlyphs">3,33</text><text x="1185" y="2523" textLength="60" lengthAdjust="spacingAndGlyphs">Gres</text>
<text x="576" y="2567" textLength="38" lengthAdjust="spacingAndGlyphs">2/2</text><text x="649" y="2567" textLength="199" lengthAdjust="spacingAndGlyphs">KOMUNIKACJA</text><text x="1060" y="2567" textLength="54" lengthAdjust="spacingAndGlyphs">5,82</text><text x="1185" y="2567" textLength="60" lengthAdjust="spacingAndGlyphs">Gres</text>
<text x="576" y="2609" textLength="38" lengthAdjust="spacingAndGlyphs">2/3</text><text x="649" y="2609" textLength="132" lengthAdjust="spacingAndGlyphs">ŁAZIENKA</text><text x="1060" y="2609" textLength="53" lengthAdjust="spacingAndGlyphs">7,31</text><text x="1185" y="2609" textLength="60" lengthAdjust="spacingAndGlyphs">Gres</text>
<text x="576" y="2653" textLength="38" lengthAdjust="spacingAndGlyphs">2/4</text><text x="649" y="2653" textLength="92" lengthAdjust="spacingAndGlyphs">POKÓJ</text><text x="1045" y="2653" textLength="67" lengthAdjust="spacingAndGlyphs">11,21</text><text x="1179" y="2653" textLength="86" lengthAdjust="spacingAndGlyphs">Panele</text>
<text x="576" y="2696" textLength="38" lengthAdjust="spacingAndGlyphs">2/5</text><text x="649" y="2696" textLength="365" lengthAdjust="spacingAndGlyphs">SALON+ANEKS KUCHENNY</text><text x="1045" y="2696" textLength="69" lengthAdjust="spacingAndGlyphs">27,73</text><text x="1140" y="2696" textLength="154" lengthAdjust="spacingAndGlyphs">Gres/Panele</text>
<text x="896" y="2739" textLength="97" lengthAdjust="spacingAndGlyphs">RAZEM</text><text x="1045" y="2739" textLength="102" lengthAdjust="spacingAndGlyphs">55,40m²</text>
</g>

<!-- title block -->
<path fill="none" stroke="#000" stroke-width="5" d="M1031 2855H2389V3390H1031ZM1031 2997H2389"/>
<path fill="none" stroke="#000" stroke-width="4.5" d="M1031 3082H1763M1031 3237H1763M1579 3082V3390M1763 2997V3390M1763 3114H2389M1763 3194H2389M1763 3232H2241M1763 3271H2389M2241 3114V3390"/>
<path d="M1193 2939 1240 2873 1283 2909 1279 2914 1240 2883 1207 2932H1283V2939Z"/><rect x="1218" y="2879" width="14" height="24"/>
<rect x="1244" y="2902" width="21" height="22" fill="none" stroke="#000" stroke-width="4"/><path d="M1254 2902V2924" stroke="#000" stroke-width="4"/>
<text x="1293" y="2938" font-size="91" font-weight="bold" textLength="247" lengthAdjust="spacingAndGlyphs" stroke="#000" stroke-width="6">EKO-DOM</text>
<rect x="1192" y="2945" width="351" height="9"/>
<text x="1189" y="2979" font-size="27" textLength="340" lengthAdjust="spacing">projekty budowlane</text>
<g class="n">
<text x="1699" y="2924" font-size="34" textLength="548" lengthAdjust="spacingAndGlyphs">26–200 Końskie ul. Pocztowa 10</text>
<text x="1829" y="2957" font-size="34" textLength="288" lengthAdjust="spacingAndGlyphs">tel. 509 790 955</text>
<text x="1212" y="3152" font-size="33" textLength="284" lengthAdjust="spacingAndGlyphs">Stanisław Grudzień</text>
<text x="1281" y="3211" font-size="34" textLength="170" lengthAdjust="spacingAndGlyphs">228/KL/72</text>
<text x="1246" y="3327" font-size="33" textLength="202" lengthAdjust="spacingAndGlyphs">Marcin Pawlik</text>
<text x="1796" y="3064" font-size="34" textLength="558" lengthAdjust="spacingAndGlyphs">Budynek mieszkalny jednorodzinny</text>
<text x="2035" y="3101" font-size="34" textLength="82" lengthAdjust="spacingAndGlyphs">NR 2</text>
<text x="2249" y="3181" font-size="34" textLength="130" lengthAdjust="spacingAndGlyphs">05.2024</text>
<text x="1885" y="3221" font-size="33" textLength="296" lengthAdjust="spacingAndGlyphs">Projekt budowlany</text>
<text x="1880" y="3263" font-size="33" textLength="194" lengthAdjust="spacingAndGlyphs">Architektura</text>
<text x="2271" y="3260" font-size="34" textLength="87" lengthAdjust="spacingAndGlyphs">1:100</text>
<text x="1891" y="3352" font-size="33" textLength="216" lengthAdjust="spacingAndGlyphs">Rzut 1 piętra</text>
<text x="2272" y="3356" font-size="34" textLength="87" lengthAdjust="spacingAndGlyphs">A–02</text>
</g>
<g class="h" stroke="#000" stroke-width=".4">
<text x="1037" y="3024" textLength="95" lengthAdjust="spacingAndGlyphs">Inwestor:</text>
<text x="1282" y="3035" textLength="158" lengthAdjust="spacingAndGlyphs">NOVATOR S.C.,</text>
<text x="1191" y="3061" textLength="360" lengthAdjust="spacingAndGlyphs">ul. Pocztowa 1, 26–200 Końskie</text>
<text x="1245" y="3122" textLength="121" lengthAdjust="spacingAndGlyphs">Projektował:</text>
<text x="1116" y="3152" textLength="83" lengthAdjust="spacingAndGlyphs">mgr inż.</text>
<text x="1060" y="3178" textLength="492" lengthAdjust="spacingAndGlyphs">upr. bud. w spec. konstrukcyjno – inżynieryjnej</text>
<text x="1162" y="3211" font-size="26" textLength="98" lengthAdjust="spacingAndGlyphs">nr ewid.</text>
<text x="1246" y="3297" textLength="109" lengthAdjust="spacingAndGlyphs">Opracował:</text>
<text x="1150" y="3327" textLength="85" lengthAdjust="spacingAndGlyphs">mgr inż.</text>
<text x="1773" y="3024" textLength="162" lengthAdjust="spacingAndGlyphs">Nazwa obiektu:</text>
<text x="1767" y="3135" textLength="65" lengthAdjust="spacingAndGlyphs">Adres:</text>
<text x="1855" y="3135" textLength="374" lengthAdjust="spacingAndGlyphs">POMYKÓW,  dz. nr 31/2,32/ 33, 34,</text>
<text x="1812" y="3164" textLength="383" lengthAdjust="spacingAndGlyphs">35/1,35/3, 35/4, 36/1, 36/3, 36/4,</text>
<text x="1915" y="3190" textLength="174" lengthAdjust="spacingAndGlyphs">37/1,37/3, 37/4</text>
<text x="2287" y="3141" textLength="56" lengthAdjust="spacingAndGlyphs">Data:</text>
<text x="1776" y="3221" textLength="93" lengthAdjust="spacingAndGlyphs">Stadium:</text>
<text x="1771" y="3263" textLength="79" lengthAdjust="spacingAndGlyphs">Branża:</text>
<text x="2285" y="3220" textLength="61" lengthAdjust="spacingAndGlyphs">Skala:</text>
<text x="1776" y="3312" textLength="206" lengthAdjust="spacingAndGlyphs">Przedmiot rysunku:</text>
<text x="2279" y="3314" textLength="72" lengthAdjust="spacingAndGlyphs">Nr rys.</text>
</g>
</svg>
</body></html>
